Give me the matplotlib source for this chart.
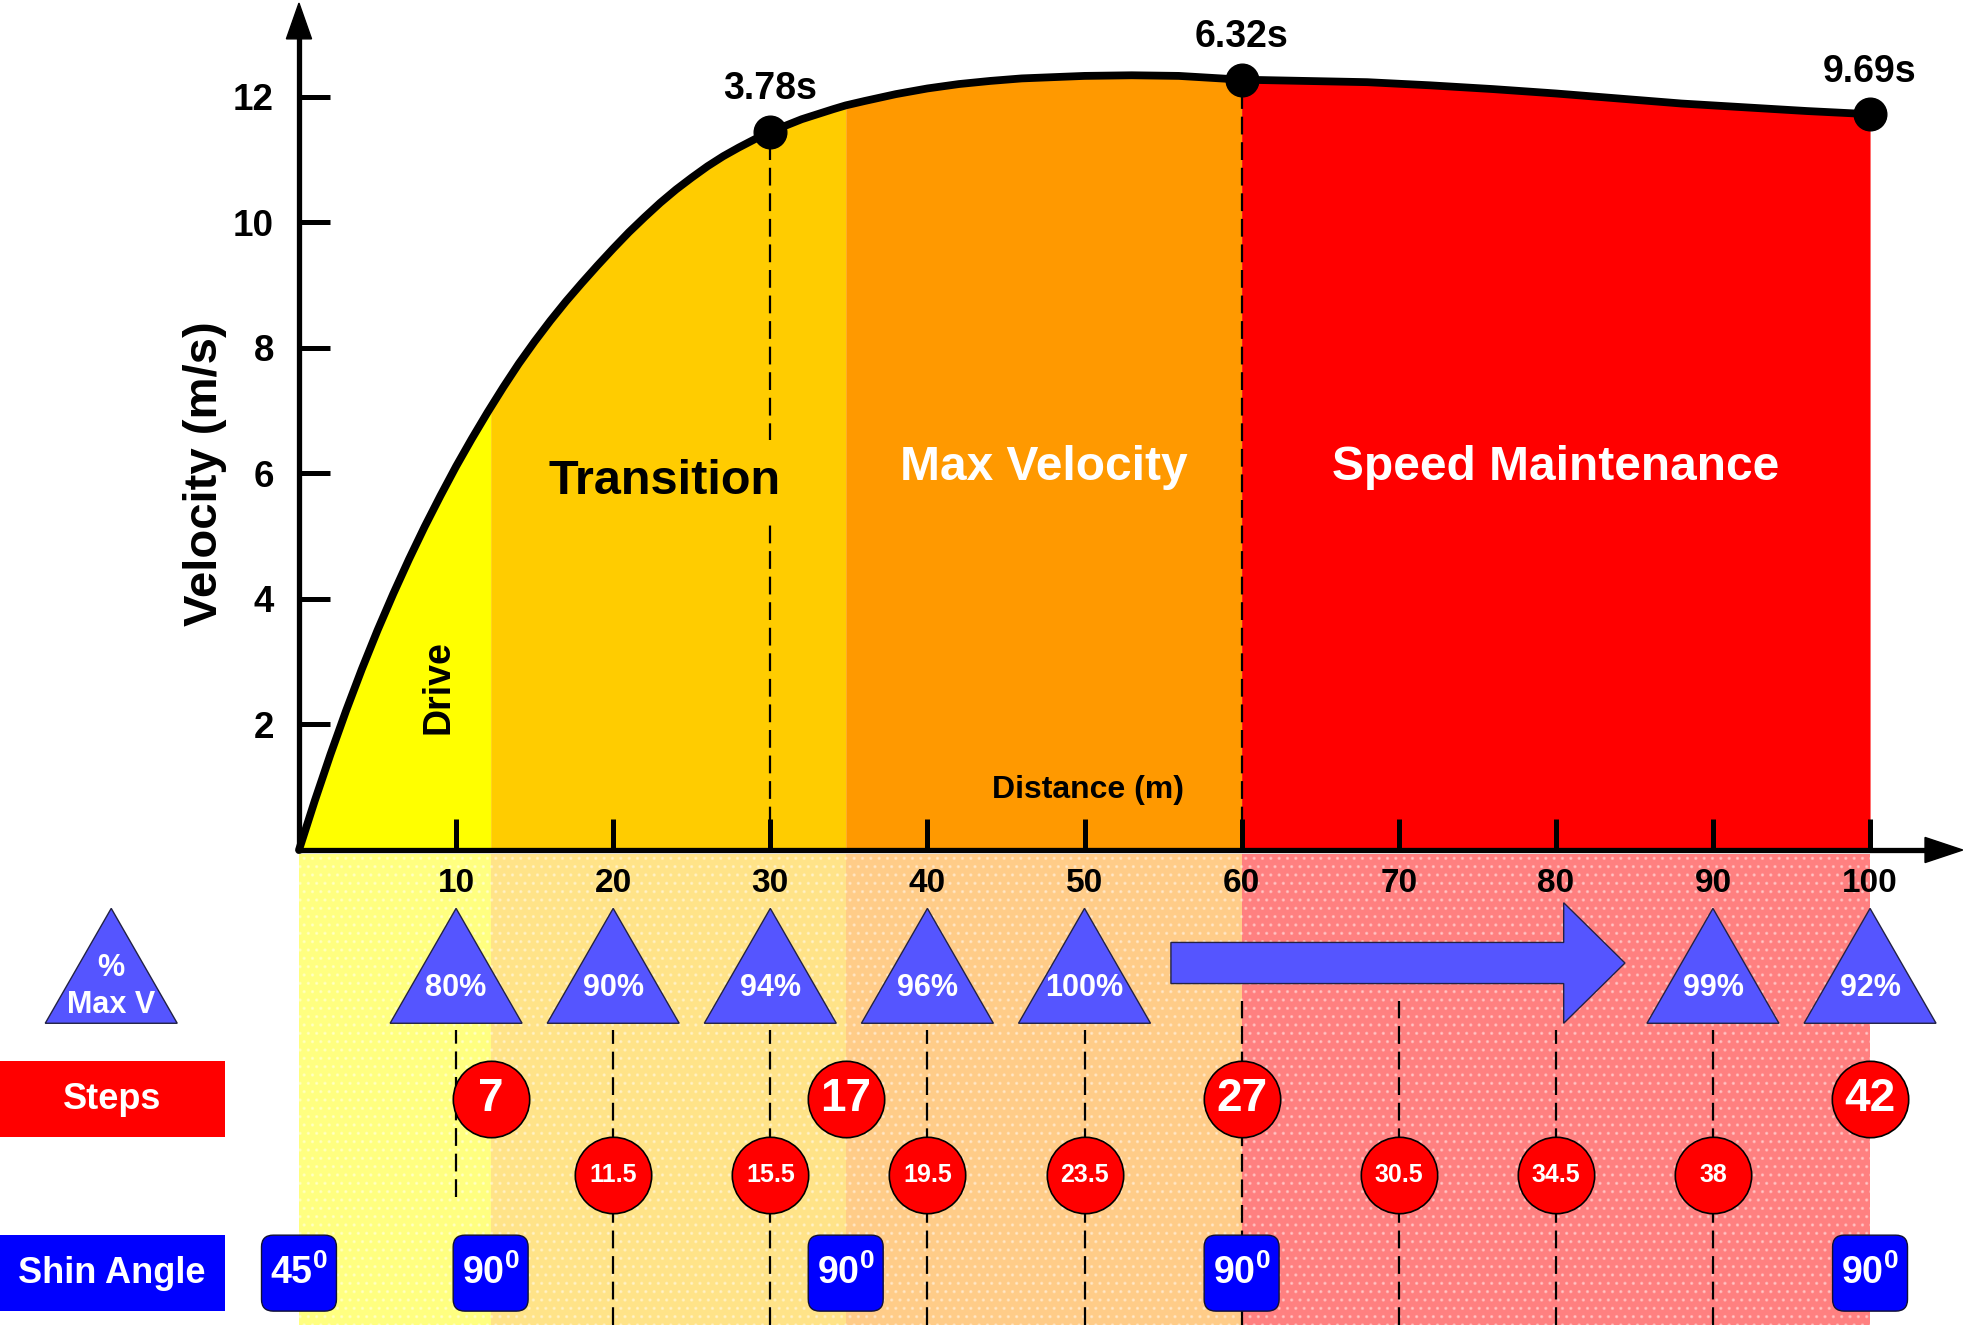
import matplotlib
matplotlib.use('Agg')
import matplotlib.pyplot as plt
from matplotlib.patches import Polygon, FancyBboxPatch, FancyArrow, Rectangle

plt.rcParams['font.family'] = ['Liberation Sans', 'DejaVu Sans']
plt.rcParams['font.weight'] = 'bold'
plt.rcParams['mathtext.fontset'] = 'custom'
plt.rcParams['mathtext.rm'] = 'Liberation Sans:bold'
plt.rcParams['mathtext.it'] = 'Liberation Sans:bold'
plt.rcParams['mathtext.bf'] = 'Liberation Sans:bold'
plt.rcParams['hatch.linewidth'] = 1.2

# velocity profile over the 100 m (distance in m, velocity in m/s)
distance = [0, 1, 2, 3, 4, 5, 6, 7, 8, 9, 10, 11, 12, 12.2, 13, 14, 15, 16,
            17, 18, 19, 20, 21, 22, 23, 24, 25, 26, 27, 28, 29, 30, 32,
            34, 34.8, 36, 38, 40, 42, 44, 46, 48, 50, 53, 56, 58, 60, 64,
            68, 72, 76, 80, 84, 88, 92, 96, 100]
velocity = [0, 0.78, 1.52, 2.22, 2.88, 3.50, 4.08, 4.63, 5.15, 5.64, 6.11,
            6.55, 6.97, 7.05, 7.37, 7.75, 8.10, 8.43, 8.74, 9.03, 9.31,
            9.58, 9.84, 10.08, 10.31, 10.52, 10.71, 10.89, 11.05, 11.19,
            11.32, 11.44, 11.64, 11.80, 11.86, 11.93, 12.04, 12.13, 12.20,
            12.25, 12.29, 12.31, 12.33, 12.34, 12.33, 12.30, 12.27, 12.25,
            12.23, 12.18, 12.12, 12.05, 11.97, 11.89, 11.83, 11.77, 11.72]

# split times
split_dist = [30, 60, 100]
split_vel = [11.44, 12.27, 11.72]
split_time = ['3.78s', '6.32s', '9.69s']

# phases
phase_names = ['Drive', 'Transition', 'Max Velocity', 'Speed Maintenance']
phase_edges = [0, 12.2, 34.8, 60, 100]

# % of max velocity
pct_dist = [10, 20, 30, 40, 50, 90, 100]
pct_maxv = [80, 90, 94, 96, 100, 99, 92]

# step counts
step_dist = [12.2, 34.8, 60, 100]
step_count = [7, 17, 27, 42]
half_dist = [20, 30, 40, 50, 70, 80, 90]
half_count = [11.5, 15.5, 19.5, 23.5, 30.5, 34.5, 38]

# shin angles
shin_dist = [0, 12.2, 34.8, 60, 100]
shin_angle = [45, 90, 90, 90, 90]

x_ticks = [10, 20, 30, 40, 50, 60, 70, 80, 90, 100]
y_ticks = [2, 4, 6, 8, 10, 12]

phase_colors = ['#FFFF00', '#FFCC00', '#FF9900', '#FF0000']
pale_colors = ['#FFFF80', '#FFE388', '#FFCC88', '#FF8080']
tri_color = '#5555FF'

fig = plt.figure(figsize=(19.64, 13.25), dpi=100)
ax = fig.add_axes([0, 0, 1, 1])
XMIN, XMAX = -19.03, 105.98
YMIN, YMAX = -7.566, 13.539
ax.set_xlim(XMIN, XMAX)
ax.set_ylim(YMIN, YMAX)

# row heights of the lower panel
TRI_APEX, TRI_BASE, TRI_HALF = -0.93, -2.76, 4.2
STEP_Y, HALF_Y, SHIN_Y = -3.97, -5.17, -6.74
ROW_H = 1.21
DASH = (0, (8, 3.5))

# filled phases under the curve + pale bands below the axis
for i in range(4):
    a, b = phase_edges[i], phase_edges[i + 1]
    mask = [a <= d <= b for d in distance]
    ax.fill_between(distance, 0, velocity, where=mask, color=phase_colors[i],
                    lw=0, zorder=1)
    ax.add_patch(Rectangle((a, YMIN), b - a, -0.06 - YMIN, facecolor=pale_colors[i],
                           edgecolor=(1, 1, 1, 0.35), lw=0, hatch='..', zorder=0.5))

# curve, split points and drop lines
ax.vlines(split_dist[:2], 0, split_vel[:2], colors='k', lw=1.6,
          linestyles=DASH, zorder=2)
ax.plot(distance, velocity, color='k', lw=5.6, solid_capstyle='round',
        solid_joinstyle='round', zorder=4)
ax.plot(split_dist, split_vel, 'o', ms=23.5, color='k', zorder=5)
for d, v, t in zip(split_dist, split_vel, split_time):
    ax.annotate(t, (d, v), xytext=(0, 30.5), textcoords='offset points',
                ha='center', va='center', fontsize=27)

# phase labels
ax.text(8.85, 2.6, phase_names[0], rotation=90, ha='center', va='center',
        fontsize=27, zorder=6)
ax.text(23.3, 5.87, phase_names[1], ha='center', va='center', fontsize=35,
        zorder=6, bbox=dict(boxstyle='square,pad=0.4', fc=phase_colors[1], ec='none'))
ax.text(47.4, 6.09, phase_names[2], ha='center', va='center', fontsize=34.5,
        color='white', zorder=6)
ax.text(80.0, 6.09, phase_names[3], ha='center', va='center', fontsize=34.5,
        color='white', zorder=6)

# axes with arrow heads
for side in ['top', 'right']:
    ax.spines[side].set_visible(False)
ax.spines['left'].set_position(('data', 0))
ax.spines['bottom'].set_position(('data', 0))
ax.spines['left'].set_bounds(0, 12.95)
ax.spines['bottom'].set_bounds(0, 103.6)
for side in ['left', 'bottom']:
    ax.spines[side].set_linewidth(3.8)
    ax.spines[side].set_zorder(5)
ax.add_patch(Polygon([(-0.8, 12.92), (0.8, 12.92), (0, 13.49)], color='k', zorder=5))
ax.add_patch(Polygon([(103.5, 0.2), (103.5, -0.2), (105.9, 0)], color='k', zorder=5))

ax.set_xticks(x_ticks)
ax.set_yticks(y_ticks)
ax.tick_params(axis='both', direction='in', length=22, width=3.6)
ax.tick_params(axis='y', pad=18, labelsize=26.5)
ax.tick_params(axis='x', pad=13, labelsize=24)
for lbl in ax.get_xticklabels() + ax.get_yticklabels():
    lbl.set_fontweight('bold')

ax.set_ylabel('Velocity (m/s)', fontsize=34, fontweight='bold')
ax.yaxis.set_label_coords(-4.6, 6.0, transform=ax.transData)
ax.set_xlabel('Distance (m)', fontsize=23, fontweight='bold')
ax.xaxis.set_label_coords(50.2, 0.96, transform=ax.transData)
ax.xaxis.label.set_va('center')

# dashed guides in the lower panel
for d in x_ticks[:-1]:
    top = -2.4 if d in (60, 70) else -2.87
    bottom = -5.53 if d == 10 else YMIN
    ax.vlines(d, bottom, top, colors='k', lw=1.6, linestyles=DASH, zorder=2)

# % max velocity triangles
def triangle(x):
    return Polygon([(x - TRI_HALF, TRI_BASE), (x + TRI_HALF, TRI_BASE), (x, TRI_APEX)],
                   facecolor=tri_color, edgecolor='#222244', lw=1, zorder=3)

ax.add_patch(triangle(-11.95))
ax.text(-11.95, -2.17, '%\nMax V', ha='center', va='center', fontsize=22,
        color='white', linespacing=1.3, zorder=6)
for d, p in zip(pct_dist, pct_maxv):
    ax.add_patch(triangle(d))
    ax.text(d, -2.2, f'{p}%', ha='center', va='center', fontsize=22,
            color='white', zorder=6)

ax.add_patch(FancyArrow(55.5, -1.80, 28.9, 0, width=0.655, head_width=1.92,
                        head_length=3.9, length_includes_head=True,
                        facecolor=tri_color, edgecolor='#222244', lw=1, zorder=3))

# step counts
ax.add_patch(Rectangle((XMIN, STEP_Y - ROW_H / 2), -4.71 - XMIN, ROW_H,
                       color='#FF0000', lw=0, zorder=3))
ax.text(-11.9, STEP_Y, 'Steps', ha='center', va='center', fontsize=26,
        color='white', zorder=6)
ax.scatter(step_dist, [STEP_Y] * len(step_dist), s=55 ** 2, c='#FF0000',
           edgecolors='k', linewidths=1.2, zorder=4)
for d, n in zip(step_dist, step_count):
    ax.text(d, STEP_Y, str(n), ha='center', va='center', fontsize=33,
            color='white', zorder=6)
ax.scatter(half_dist, [HALF_Y] * len(half_dist), s=55 ** 2, c='#FF0000',
           edgecolors='k', linewidths=1.2, zorder=4)
for d, n in zip(half_dist, half_count):
    ax.text(d, HALF_Y, f'{n:g}', ha='center', va='center', fontsize=18,
            color='white', zorder=6)

# shin angles
ax.add_patch(Rectangle((XMIN, SHIN_Y - ROW_H / 2), -4.71 - XMIN, ROW_H,
                       color='#0000FF', lw=0, zorder=3))
ax.text(-11.9, SHIN_Y, 'Shin Angle', ha='center', va='center', fontsize=26,
        color='white', zorder=6)
box_w = 4.77
for d, a in zip(shin_dist, shin_angle):
    ax.add_patch(FancyBboxPatch((d - box_w / 2, SHIN_Y - ROW_H / 2), box_w, ROW_H,
                                boxstyle='round,pad=0,rounding_size=0.75',
                                mutation_aspect=0.25, facecolor='#0000FF',
                                edgecolor='#111133', lw=1, zorder=4))
    ax.text(d, SHIN_Y, f'{a}$^{{0}}$', ha='center', va='center', fontsize=27,
            color='white', zorder=6)

fig.savefig('out.png', dpi=100)
